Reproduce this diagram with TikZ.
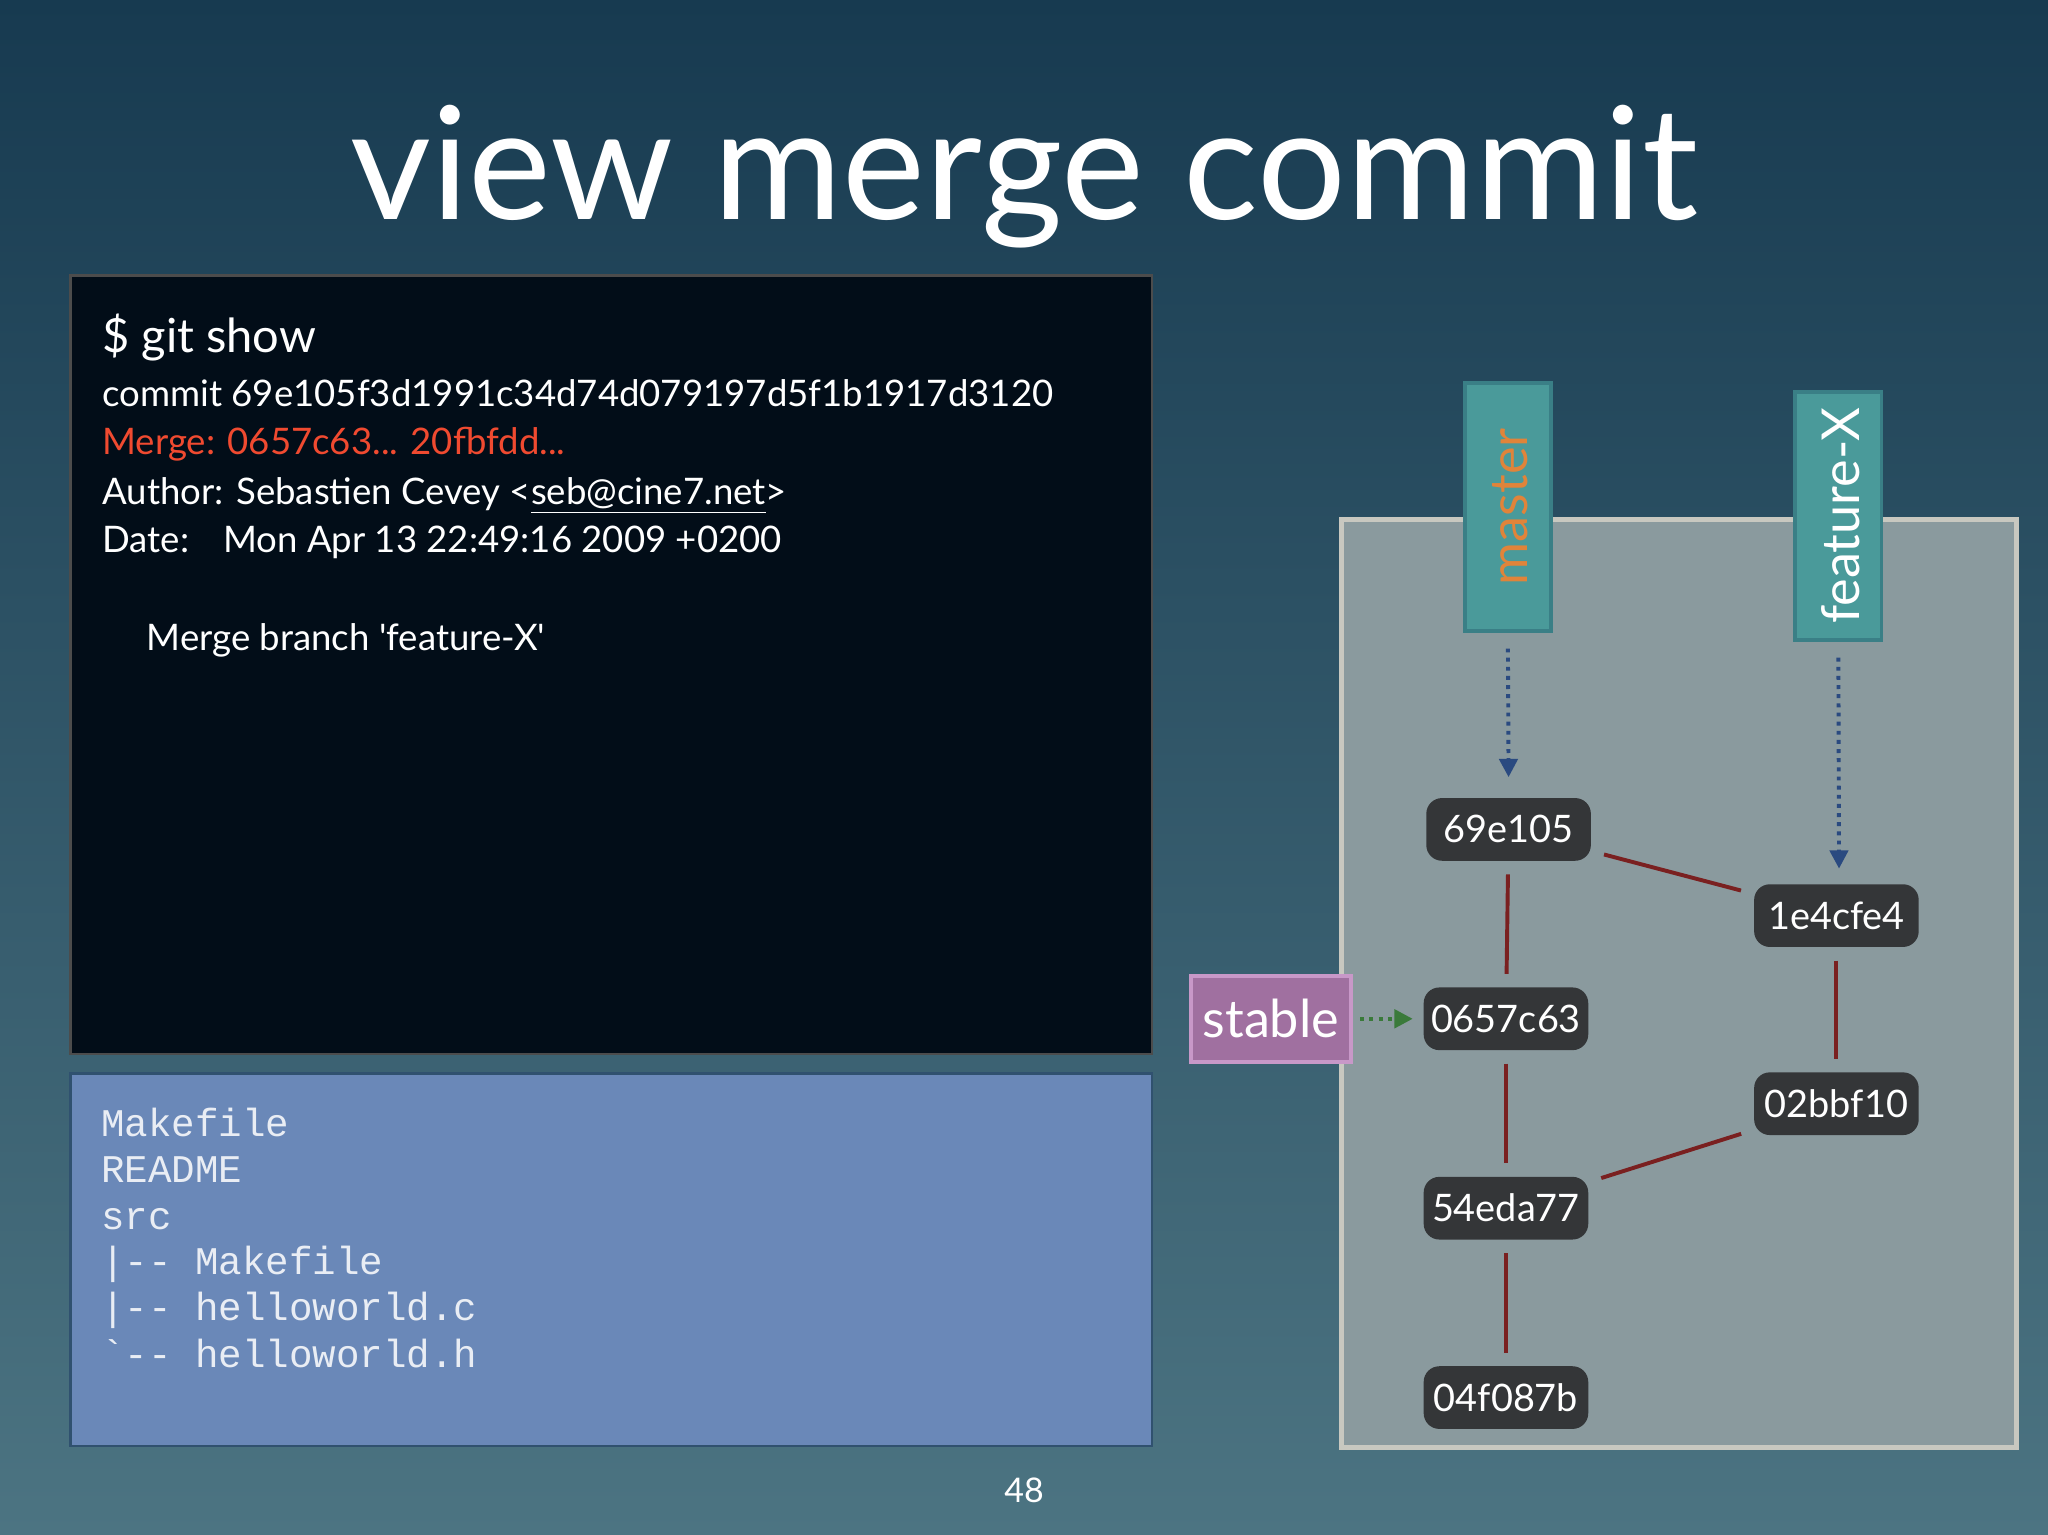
\documentclass[tikz,border=0pt]{standalone}
\usepackage{fontspec}
\setmainfont{Lato}
\newfontfamily\mono{Liberation Mono}
\usetikzlibrary{arrows.meta}
\definecolor{bgtop}{HTML}{173A50}
\definecolor{bgbot}{HTML}{4C7482}
\definecolor{term}{HTML}{020D18}
\definecolor{filebox}{HTML}{6A88B8}
\definecolor{graybox}{HTML}{8A9A9E}
\definecolor{grayedge}{HTML}{C8C8C0}
\definecolor{tagteal}{HTML}{4A9A9A}
\definecolor{tagedge}{HTML}{3A7F86}
\definecolor{mastertxt}{HTML}{E0843A}
\definecolor{commitfill}{HTML}{343638}
\definecolor{edgered}{HTML}{7A2020}
\definecolor{arrblue}{HTML}{2A4A80}
\definecolor{stablefill}{HTML}{A070A0}
\definecolor{stableedge}{HTML}{C898C8}
\definecolor{arrgreen}{HTML}{3A7A3A}
\definecolor{mergered}{HTML}{F04A30}
\begin{document}
\begin{tikzpicture}[x=0.5pt,y=-0.5pt,
  commit/.style={rounded corners=6pt,fill=commitfill,text=white,minimum width=63pt,minimum height=24pt,inner sep=0pt,font=\fontsize{14.5}{14.5}\selectfont},
  tag/.style={fill=tagteal,draw=tagedge,line width=1.5pt,minimum width=33pt,minimum height=95pt,inner sep=0pt},
  edge/.style={draw=edgered,line width=1.5pt,shorten >=5pt,shorten <=5pt},
  txt/.style={anchor=base west,text=white,font=\fontsize{14}{14}\selectfont,inner sep=0pt},
  ftxt/.style={anchor=base west,text=white!85!filebox,font=\mono\fontsize{15}{15}\selectfont,inner sep=0pt}]
\shade[top color=bgtop,bottom color=bgbot] (0,0) rectangle (1568,1175);
\useasboundingbox (0,0) rectangle (1568,1175);
\node[text=white,font=\fontsize{60}{60}\selectfont] (title) at (784,135) {view merge commit};
\node[draw=gray!60!black,fill=term,line width=1pt,minimum width=414pt,minimum height=298pt,inner sep=0pt] (termbox) at (468,509) {};
\node[txt,font=\fontsize{18}{18}\selectfont] (l0) at (78,270) {\$ git show};
\node[txt] (l1) at (78,311) {commit 69e105f3d1991c34d74d079197d5f1b1917d3120};
\node[txt,text=mergered] (l2) at (78,348) {Merge: 0657c63... 20fbfdd...};
\node[txt] (l3) at (78,386) {Author: Sebastien Cevey <\underline{seb@cine7.net}>};
\node[txt] (l4) at (78,423) {Date:\hspace{13pt}Mon Apr 13 22:49:16 2009 +0200};
\node[txt] (l5) at (112,498) {Merge branch \textquotesingle feature-X\textquotesingle};
\node[draw=bgtop!70!filebox,fill=filebox,line width=1pt,minimum width=414pt,minimum height=142.5pt,inner sep=0pt] (fbox) at (468,964.5) {};
\node[ftxt] (f1) at (77,870) {Makefile};
\node[ftxt] (f2) at (77,905) {README};
\node[ftxt] (f3) at (77,941) {src};
\node[ftxt] (f4) at (77,976) {|-- Makefile};
\node[ftxt] (f5) at (77,1011) {|-- helloworld.c};
\node[ftxt] (f6) at (77,1047) {`-- helloworld.h};
\node[draw=grayedge,fill=graybox,line width=2pt,minimum width=258.5pt,minimum height=355pt,inner sep=0pt] (gbox) at (1285.5,753) {};
\node[tag] (master) at (1154.5,388) {};
\node[rotate=90,text=mastertxt,font=\fontsize{20}{20}\selectfont] (mastert) at (1156,388) {master};
\node[tag] (feature) at (1407.5,395) {};
\node[rotate=90,text=white,font=\fontsize{20}{20}\selectfont] (featuret) at (1409,395) {feature-X};
\node[commit] (c1) at (1155,635) {69e105};
\node[commit] (c2) at (1406,701) {1e4cfe4};
\node[commit] (c3) at (1153,780) {0657c63};
\node[commit] (c4) at (1406,845) {02bbf10};
\node[commit] (c5) at (1153,925) {54eda77};
\node[commit] (c6) at (1153,1070) {04f087b};
\draw[edge] (c1) -- (c2);
\draw[edge] (c1) -- (c3);
\draw[edge] (c2) -- (c4);
\draw[edge] (c3) -- (c5);
\draw[edge] (c4) -- (c5);
\draw[edge] (c5) -- (c6);
\node[fill=stablefill,draw=stableedge,line width=1.5pt,minimum width=61pt,minimum height=33pt,inner sep=0pt,text=white,font=\fontsize{20}{20}\selectfont] (stable) at (973,780) {stable};
\coordinate (mh) at (1155,595);
\coordinate (fh) at (1408,665);
\draw[arrblue,line width=1.5pt,dotted,-{Triangle[length=7pt,width=7pt]}] (master.south) ++(0,12) -- (mh);
\draw[arrblue,line width=1.5pt,dotted,-{Triangle[length=7pt,width=7pt]}] (feature.south) ++(0,12) -- (fh);
\draw[arrgreen,line width=1.5pt,dotted,-{Triangle[length=7pt,width=7pt]},shorten <=3pt,shorten >=4pt] (stable) -- (c3);
\node[text=white,font=\fontsize{13}{13}\selectfont] (pg) at (784,1141) {48};
\end{tikzpicture}
\end{document}
